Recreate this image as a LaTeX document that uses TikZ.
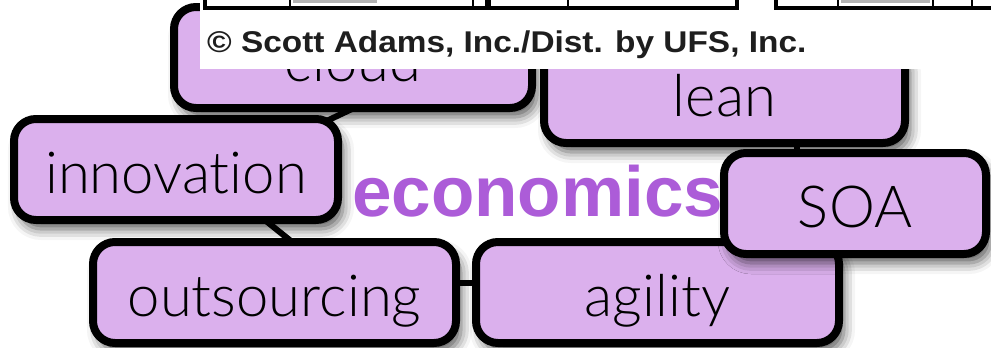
\documentclass[tikz,border=0pt]{standalone}
\usepackage{fontspec}
\usepackage{graphicx}
\setmainfont{Liberation Sans}
\newfontfamily\lightfont{Lato Light}[Ligatures={NoCommon,NoDiscretionary,NoRequired}]
\usetikzlibrary{calc,shadows.blur}
\pgfdeclarelayer{background}
\pgfsetlayers{background,main}
\definecolor{boxfill}{RGB}{219,176,237}
\definecolor{econ}{RGB}{172,92,216}
\definecolor{ink}{RGB}{30,30,30}
\tikzset{
  term/.style={draw=black, line width=8pt, fill=boxfill, rounded corners=22pt,
    minimum height=101pt, inner sep=0pt, text height=48pt, text depth=0pt,
    font=\lightfont\fontsize{58}{60}\selectfont,
    blur shadow={shadow xshift=5pt, shadow yshift=-9pt, shadow blur radius=11pt, shadow opacity=65}},
  link/.style={line width=6pt, black},
  frame/.style={line width=3.5pt, black},
  rule/.style={line width=1.5pt, black},
}
\begin{document}
\begin{tikzpicture}[x=1pt, y=-1pt]
\useasboundingbox (0,0) rectangle (991,348);

% the terms around the central word
\node[term, minimum width=358pt] (cloud) at (353,57.5) {cloud};
\node[term, minimum width=361pt] (lean) at (724.5,92.5) {lean};
\node[term, minimum width=324pt] (innovation) at (176,169.5) {innovation};
\node[term, minimum width=363pt] (outsourcing) at (274.5,292.5) {outsourcing};
\node[term, minimum width=363pt] (agility) at (657.5,292.5) {agility};
\node[anchor=base west, inner sep=0pt, text=econ,
      font=\bfseries\fontsize{71}{74}\selectfont] (economics) at (352,216) {economics};
\node[term, minimum width=262pt] (soa) at (855,203.5) {SOA};

% links, kept behind the boxes
\begin{pgfonlayer}{background}
\draw[link] ($(innovation.north east)+(-45,20)$) -- ($(cloud.south)+(20,-13)$);
\draw[link] ($(innovation.south east)+(-92,-16)$) -- ($(outsourcing.north west)+(213,12)$);
\draw[link] ($(outsourcing.east)+(-10,-9.5)$) -- ($(agility.west)+(10,-9.5)$);
\draw[link] ($(lean.south)+(72.5,-10)$) -- ($(soa.north)+(-58,10)$);
\end{pgfonlayer}

% credit strip with the bottom of the comic panels
\fill[white] (200,0) rectangle (991,69);
\fill[black!30] (293,0) rectangle (377,3);
\fill[black!30] (841,0) rectangle (930,3);
\draw[frame] (205,0) -- (205,8) -- (737,8) -- (737,0);
\draw[frame] (776,0) -- (776,8) -- (991,8);
\draw[rule] (290,0) -- (290,8);
\draw[rule] (473,0) -- (473,8);
\draw[line width=6pt] (488,0) -- (488,9);
\draw[rule] (568,0) -- (568,8);
\draw[rule] (838,0) -- (838,8);
\draw[rule] (933,0) -- (933,8);
\draw[rule] (972,0) -- (972,8);
\node[anchor=base west, inner sep=0pt, text=ink,
      font=\bfseries\fontsize{30}{32}\selectfont] (credit) at (207,52)
      {\scalebox{1.113}[1]{© Scott Adams, Inc./Dist. by UFS, Inc.}};
\end{tikzpicture}
\end{document}
